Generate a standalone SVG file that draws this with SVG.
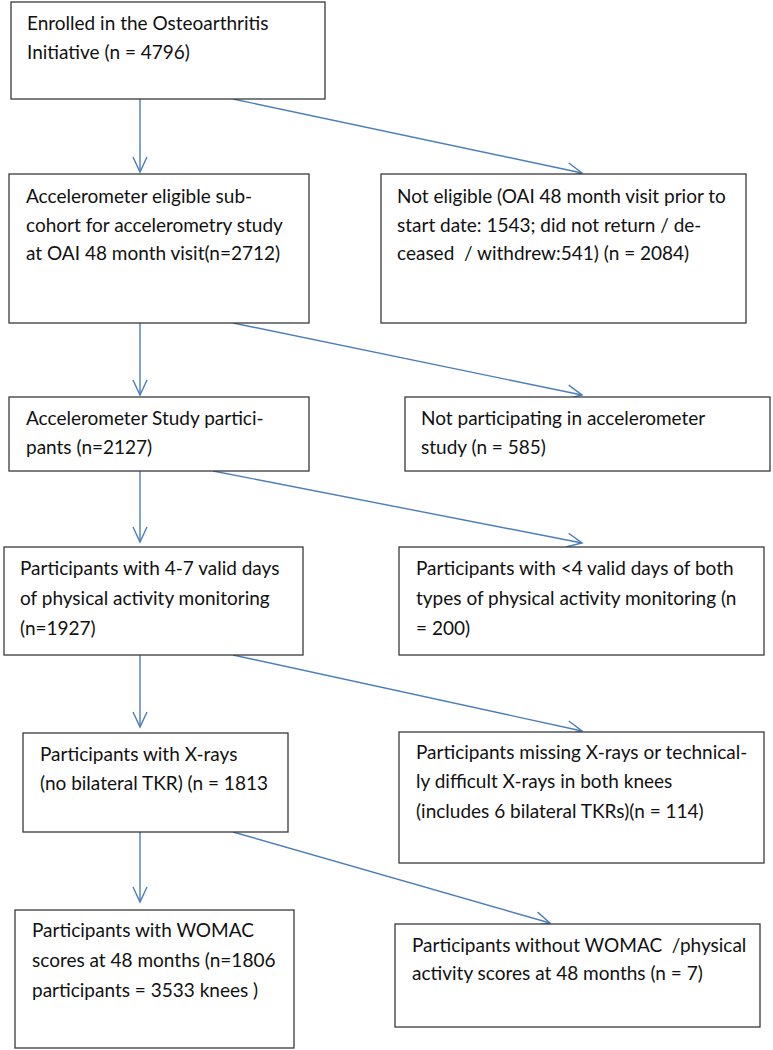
<svg xmlns="http://www.w3.org/2000/svg" width="773" height="1050" viewBox="0 0 773 1050">
<style>
.box{fill:#fff;stroke:#3a3a3a;stroke-width:1.3}
.t{font-family:Lato,"Open Sans","Liberation Sans",sans-serif;font-size:19px;fill:#111}
.c{stroke:#4a7ebb;stroke-width:1.4;fill:none;marker-end:url(#ah)}
</style>
<defs>
<marker id="ah" markerUnits="userSpaceOnUse" markerWidth="18" markerHeight="16" viewBox="0 0 18 16" refX="16" refY="8" orient="auto">
<path d="M1,1 L16,8 L1,15" fill="none" stroke="#4a7ebb" stroke-width="1.4"/>
</marker>
</defs>
<rect width="773" height="1050" fill="#fff"/>
<g id="connectors">
<line class="c" x1="140" y1="99" x2="140" y2="172"/>
<line class="c" x1="233" y1="99" x2="582" y2="173"/>
<line class="c" x1="140" y1="323" x2="140" y2="395"/>
<line class="c" x1="233" y1="323" x2="582" y2="395"/>
<line class="c" x1="140" y1="471" x2="140" y2="542"/>
<line class="c" x1="213" y1="471" x2="582" y2="543"/>
<line class="c" x1="140" y1="655" x2="140" y2="727"/>
<line class="c" x1="233" y1="655" x2="582" y2="731"/>
<line class="c" x1="140" y1="832" x2="140" y2="902"/>
<line class="c" x1="233" y1="832" x2="550" y2="923"/>
</g>
<g id="n1">
<rect class="box" x="11" y="2" width="314" height="97"/>
<text class="t" x="27" y="30">Enrolled in the Osteoarthritis</text>
<text class="t" x="27" y="59">Initiative (n = 4796)</text>
</g>
<g id="n2">
<rect class="box" x="9" y="174" width="300" height="149"/>
<text class="t" x="26" y="203">Accelerometer eligible sub-</text>
<text class="t" x="26" y="232">cohort for accelerometry study</text>
<text class="t" x="26" y="260">at OAI 48 month visit(n=2712)</text>
</g>
<g id="n3">
<rect class="box" x="381" y="174" width="365" height="149"/>
<text class="t" x="397" y="203">Not eligible (OAI 48 month visit prior to</text>
<text class="t" x="397" y="232">start date: 1543; did not return / de-</text>
<text class="t" x="397" y="260" xml:space="preserve">ceased  / withdrew:541) (n = 2084)</text>
</g>
<g id="n4">
<rect class="box" x="9" y="397" width="300" height="74"/>
<text class="t" x="26" y="425">Accelerometer Study partici-</text>
<text class="t" x="26" y="454">pants (n=2127)</text>
</g>
<g id="n5">
<rect class="box" x="405" y="397" width="365" height="74"/>
<text class="t" x="421" y="425">Not participating in accelerometer</text>
<text class="t" x="421" y="454">study (n = 585)</text>
</g>
<g id="n6">
<rect class="box" x="4" y="547" width="299" height="108"/>
<text class="t" x="20" y="575">Participants with 4-7 valid days</text>
<text class="t" x="20" y="605">of physical activity monitoring</text>
<text class="t" x="20" y="635">(n=1927)</text>
</g>
<g id="n7">
<rect class="box" x="399" y="547" width="365" height="108"/>
<text class="t" x="416" y="575">Participants with &lt;4 valid days of both</text>
<text class="t" x="416" y="605">types of physical activity monitoring (n</text>
<text class="t" x="416" y="635">= 200)</text>
</g>
<g id="n8">
<rect class="box" x="23" y="733" width="265" height="99"/>
<text class="t" x="40" y="761">Participants with X-rays</text>
<text class="t" x="40" y="790">(no bilateral TKR) (n = 1813</text>
</g>
<g id="n9">
<rect class="box" x="399" y="732" width="365" height="131"/>
<text class="t" x="416" y="759">Participants missing X-rays or technical-</text>
<text class="t" x="416" y="788">ly difficult X-rays in both knees</text>
<text class="t" x="416" y="818">(includes 6 bilateral TKRs)(n = 114)</text>
</g>
<g id="n10">
<rect class="box" x="15" y="910" width="279" height="138"/>
<text class="t" x="32" y="937">Participants with WOMAC</text>
<text class="t" x="32" y="967">scores at 48 months (n=1806</text>
<text class="t" x="32" y="997">participants = 3533 knees )</text>
</g>
<g id="n11">
<rect class="box" x="395" y="924" width="365" height="103"/>
<text class="t" x="412" y="952" xml:space="preserve">Participants without WOMAC  /physical</text>
<text class="t" x="412" y="980">activity scores at 48 months (n = 7)</text>
</g>
</svg>
